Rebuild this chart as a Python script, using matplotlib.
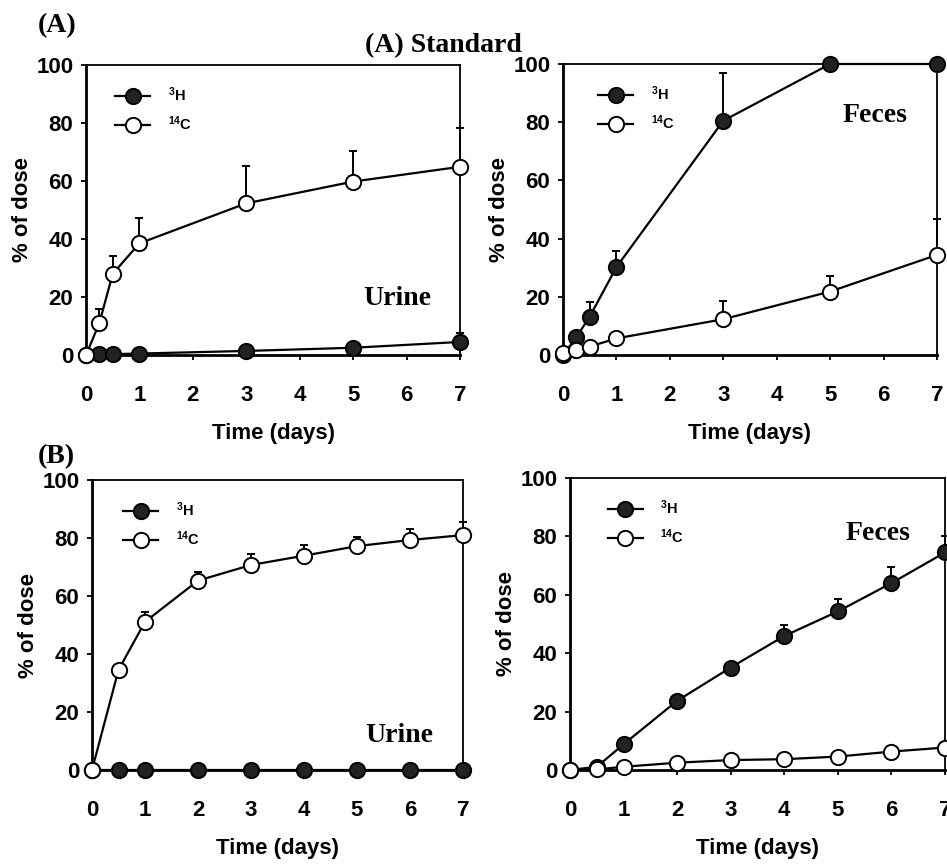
import numpy as np
import matplotlib
matplotlib.use("Agg")
import matplotlib.pyplot as plt
from matplotlib.lines import Line2D

plt.rcParams['font.family'] = ['Liberation Sans', 'DejaVu Sans']
plt.rcParams['font.weight'] = 'bold'
plt.rcParams['mathtext.fontset'] = 'custom'
plt.rcParams['mathtext.rm'] = 'Liberation Sans:bold'
plt.rcParams['mathtext.bf'] = 'Liberation Sans:bold'
plt.rcParams['mathtext.default'] = 'bf'

# ---- data ----
# (A) Standard
a_time = [0, 0.25, 0.5, 1, 3, 5, 7]
a_urine_h3 = [0, 0.2, 0.3, 0.5, 1.4, 2.5, 4.5]
a_urine_h3_err = [0, 0, 0, 0, 0, 0, 3.0]
a_urine_c14 = [0, 11, 28, 38.5, 52.3, 59.8, 64.9]
a_urine_c14_err = [0, 5, 6.3, 8.6, 13, 10.5, 13.5]
a_feces_h3 = [0, 6.1, 13.2, 30.2, 80.5, 100, 100]
a_feces_h3_err = [0, 0, 5, 5.4, 16.4, 0, 0]
a_feces_c14 = [0.8, 1.7, 2.9, 5.7, 12.3, 21.8, 34.4]
a_feces_c14_err = [0, 0, 0, 0, 6.4, 5.5, 12.3]
# (B)
b_time = [0, 0.5, 1, 2, 3, 4, 5, 6, 7]
b_urine_h3 = [0, 0, 0, 0, 0, 0, 0, 0, 0]
b_urine_h3_err = [0, 0, 0, 0, 0, 0, 0, 0, 0]
b_urine_c14 = [0, 34.5, 51.1, 65.3, 70.7, 73.9, 77.2, 79.3, 81]
b_urine_c14_err = [0, 0, 3.3, 3, 3.7, 3.7, 3.2, 3.7, 4.6]
b_feces_h3 = [0, 1.1, 8.8, 23.7, 35.1, 45.9, 54.3, 64, 74.5]
b_feces_h3_err = [0, 0, 0, 0, 0, 3.8, 4.3, 5.4, 5.5]
b_feces_c14 = [0, 0.2, 1.1, 2.5, 3.4, 3.7, 4.6, 6.3, 7.7]
b_feces_c14_err = [0, 0, 0, 0, 0, 0, 0, 0, 0]

xticks = [0, 1, 2, 3, 4, 5, 6, 7]
yticks = [0, 20, 40, 60, 80, 100]
legend_labels = [r'$^{3}$H', r'$^{14}$C']

W, H = 947, 865
fig = plt.figure(figsize=(W / 100, H / 100), dpi=100)


def rect(x0, x1, ytop, ybot):
    return [x0 / W, (H - ybot) / H, (x1 - x0) / W, (ybot - ytop) / H]


panels = [
    dict(rect=rect(86, 460, 65, 355), x=a_time, h=a_urine_h3, he=a_urine_h3_err,
         c=a_urine_c14, ce=a_urine_c14_err, name='Urine', tpos=(0.832, 0.172), leg=(0.078, 0.93)),
    dict(rect=rect(563, 937, 64, 355), x=a_time, h=a_feces_h3, he=a_feces_h3_err,
         c=a_feces_c14, ce=a_feces_c14_err, name='Feces', tpos=(0.834, 0.80), leg=(0.094, 0.93)),
    dict(rect=rect(92, 463, 480, 770), x=b_time, h=b_urine_h3, he=b_urine_h3_err,
         c=b_urine_c14, ce=b_urine_c14_err, name='Urine', tpos=(0.827, 0.097), leg=(0.084, 0.93)),
    dict(rect=rect(570, 945, 478, 770), x=b_time, h=b_feces_h3, he=b_feces_h3_err,
         c=b_feces_c14, ce=b_feces_c14_err, name='Feces', tpos=(0.821, 0.788), leg=(0.10, 0.93)),
]

dark = '#222222'
MS = 11
for p in panels:
    ax = fig.add_axes(p['rect'])
    x = np.array(p['x'])
    for yv, ev, fc, z in [(p['h'], p['he'], dark, 3), (p['c'], p['ce'], 'white', 4)]:
        yv = np.array(yv); ev = np.array(ev)
        if ev.any():
            eb = ax.errorbar(x, yv, yerr=[np.zeros_like(ev), ev], fmt='none', ecolor='black',
                             elinewidth=1.4, capsize=3, capthick=1.4, zorder=z - 0.5)
            for art in list(eb.lines[1]) + list(eb.lines[2]):
                art.set_clip_on(False)
        ax.plot(x, yv, '-', color='black', lw=1.6, marker='o', ms=MS, mfc=fc, mec='black',
                mew=1.4, clip_on=False, zorder=z)
    ax.set_xlim(0, 7)
    ax.set_ylim(0, 100)
    ax.set_xticks(xticks)
    ax.set_yticks(yticks)
    ax.tick_params(direction='out', length=3.6, width=1.3, labelsize=16)
    ax.tick_params(axis='x', pad=18)
    ax.tick_params(axis='y', pad=5.5)
    for lab in ax.get_xticklabels() + ax.get_yticklabels():
        lab.set_fontweight('bold')
    for s in ['left', 'bottom']:
        ax.spines[s].set_linewidth(2)
    for s in ['top', 'right']:
        ax.spines[s].set_linewidth(1.3)
    ax.set_xlabel('Time (days)', fontsize=16, fontweight='bold', labelpad=12)
    ax.set_ylabel('% of dose', fontsize=16, fontweight='bold', labelpad=2.5)
    ax.text(p['tpos'][0], p['tpos'][1], p['name'], transform=ax.transAxes, ha='center',
            va='baseline', fontsize=20, fontweight='bold', family='Liberation Serif')
    handles = [Line2D([], [], color='black', lw=1.6, marker='o', ms=MS, mfc=dark, mec='black', mew=1.4),
               Line2D([], [], color='black', lw=1.6, marker='o', ms=MS, mfc='white', mec='black', mew=1.4)]
    ax.legend(handles, legend_labels, loc='upper left', bbox_to_anchor=p['leg'], frameon=False,
              handlelength=2.4, handletextpad=1.2, labelspacing=0.7, borderpad=0,
              borderaxespad=0, prop=dict(weight='bold', size=10.5))

serif = dict(fontsize=20, fontweight='bold', family='Liberation Serif', va='baseline')
fig.text(38 / W, (H - 32) / H, '(A)', ha='left', **serif)
fig.text(443 / W, (H - 52) / H, '(A) Standard', ha='center', **serif)
fig.text(38 / W, (H - 463) / H, '(B)', ha='left', **serif)

fig.savefig('out.png', dpi=100)
